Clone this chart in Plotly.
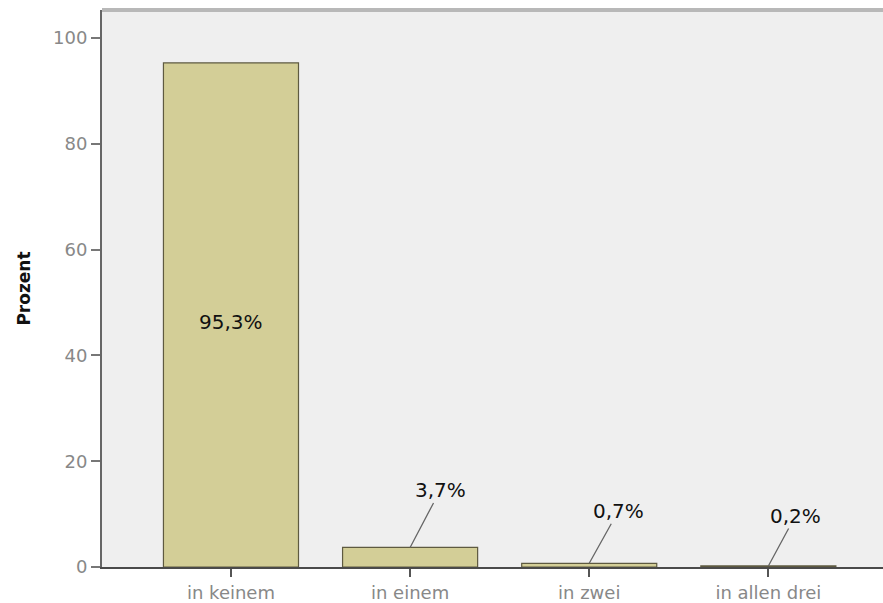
import plotly.graph_objects as go

categories = ["in keinem", "in einem", "in zwei", "in allen drei"]
values = [95.3, 3.7, 0.7, 0.2]
labels = ["95,3%", "3,7%", "0,7%", "0,2%"]
y_ticks = [0, 20, 40, 60, 80, 100]

xs = list(range(len(categories)))
FONT = "DejaVu Sans, Liberation Sans, Arial"

fig = go.Figure()
fig.add_trace(go.Bar(
    x=xs, y=values, width=0.754,
    marker=dict(color="#d3ce97", line=dict(color="#5e5a40", width=1.2)),
    hoverinfo="skip",
))

# label offsets (px) for the small bars
offsets = [None, (30, -57), (29, -52), (27, -50)]
for i, (v, lab) in enumerate(zip(values, labels)):
    if offsets[i] is None:
        fig.add_annotation(x=xs[i], y=v * 0.486, text=lab, showarrow=False,
                           font=dict(size=20, color="#111", family=FONT))
    else:
        ax, ay = offsets[i]
        fig.add_annotation(x=xs[i], y=v, text=lab, showarrow=True, arrowhead=0,
                           arrowwidth=1.3, arrowcolor="#666", ax=ax, ay=ay,
                           standoff=0, startstandoff=0, borderpad=0,
                           font=dict(size=20, color="#111", family=FONT))

fig.add_shape(type="line", xref="paper", yref="paper", x0=0, x1=1, y0=1, y1=1,
              line=dict(color="#b8b8b8", width=4))

fig.update_layout(
    width=883, height=603,
    margin=dict(l=102, r=0, t=10, b=36),
    paper_bgcolor="white", plot_bgcolor="#efefef",
    showlegend=False,
    font=dict(family=FONT, size=18, color="#888"),
    xaxis=dict(
        range=[-0.72, 3.64], tickvals=xs, ticktext=categories,
        showline=True, linecolor="#4a4a4a", linewidth=2,
        ticks="outside", ticklen=8, tickwidth=2, tickcolor="#555",
        showgrid=False, zeroline=False, fixedrange=True, automargin=False,
        tickfont=dict(size=18, color="#888", family=FONT),
    ),
    yaxis=dict(
        range=[0, 105.3], tickvals=y_ticks, ticktext=[str(t) for t in y_ticks],
        showline=True, linecolor="#666", linewidth=2,
        ticks="outside", ticklen=9, tickwidth=2, tickcolor="#777",
        showgrid=False, zeroline=False, automargin=False,
        tickfont=dict(size=18, color="#888", family=FONT),
        title=dict(text="<b>Prozent</b>", font=dict(size=17, color="#111", family=FONT),
                   standoff=18),
    ),
)

fig.write_html("out.html")
